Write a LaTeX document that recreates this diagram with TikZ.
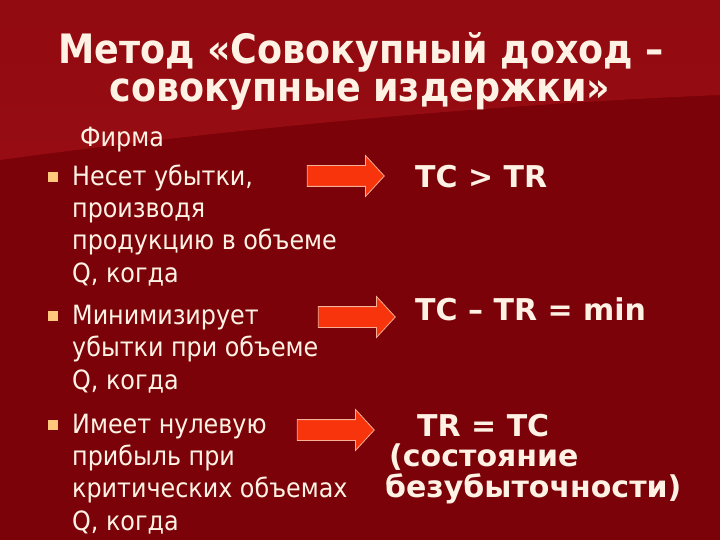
\documentclass[tikz,border=0pt]{standalone}
\usepackage{fontspec}
\setmainfont{DejaVu Sans Condensed}
\newfontfamily\widefont{DejaVu Sans}
\usetikzlibrary{positioning,shapes.arrows}

\definecolor{bgdark}{RGB}{122,2,8}
\definecolor{bglight}{RGB}{150,12,18}
\definecolor{txt}{RGB}{255,242,228}
\definecolor{arrowfill}{RGB}{248,52,12}
\definecolor{arrowline}{RGB}{246,176,150}
\definecolor{bulletc}{RGB}{255,200,125}

\tikzset{
	heading/.style={text=txt, font=\fontsize{40.5}{44}\selectfont\bfseries, anchor=base, inner sep=0},
	body/.style={text=txt, font=\fontsize{26.5}{32.3}\selectfont, anchor=base west, inner sep=0, align=left},
	result/.style={text=txt, font=\widefont\fontsize{30}{31}\selectfont\bfseries, anchor=base west, inner sep=0},
	bullet/.style={fill=bulletc, minimum size=10pt, inner sep=0},
	blockarrow/.style={single arrow, fill=arrowfill, draw=arrowline, line width=0.8pt,
		inner sep=0, text height=20pt, text depth=0pt, minimum height=77pt,
		single arrow head extend=10pt, single arrow tip angle=95}
}

\begin{document}
\begin{tikzpicture}[x=1pt, y=-1pt]
	\useasboundingbox (0,0) rectangle (720,540);
	\fill[bgdark] (0,0) rectangle (720,540);
	\shade[top color=bglight!85!bgdark, bottom color=bglight] (0,0) -- (720,0) -- (720,95)
		.. controls (480,105) and (220,130) .. (0,160) -- cycle;

	\node[heading] (t1) at (361,64)  {Метод «Совокупный доход –};
	\node[heading] (t2) at (360,102) {совокупные издержки»};

	\node[body] (firm) at (80,147) {Фирма};

	% base west of a multi-line node sits on its last line
	\node[body] (b1) at (72,282) {Несет убытки,\\производя\\продукцию в объеме\\Q, когда};
	\node[body] (b2) at (72,389) {Минимизирует\\убытки при объеме\\Q, когда};
	\node[body] (b3) at (72,530) {Имеет нулевую\\прибыль при\\критических объемах\\Q, когда};

	\node[bullet] (p1) at (53,177) {};
	\node[bullet] (p2) at (53,316) {};
	\node[bullet] (p3) at (53,425) {};

	\node[blockarrow] (a1) at (341,176) {};
	\node[blockarrow] (a2) at (352,317) {};
	\node[blockarrow] (a3) at (331,430) {};

	\node[result] (r1) at (415,188) {TC > TR};
	\node[result] (r2) at (415,320) {TC – TR = min};
	\node[result] (r3) at (417,436) {TR = TC};
	\node[result] (r4) at (389,466) {(состояние};
	\node[result] (r5) at (385,497) {безубыточности)};
\end{tikzpicture}
\end{document}
